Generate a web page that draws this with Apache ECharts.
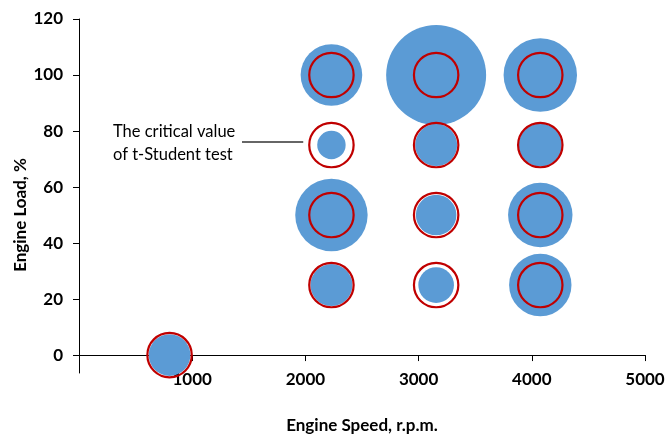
<!DOCTYPE html>
<html>
<head>
<meta charset="utf-8">
<script src="https://cdn.jsdelivr.net/npm/echarts@6/dist/echarts.min.js"></script>
<style>
  html, body { margin: 0; padding: 0; background: #fff; }
  #chart { width: 666px; height: 438px; }
</style>
</head>
<body>
<div id="chart"></div>
<script>
// Measurement points: engine speed (r.p.m.) and engine load (%)
const speeds = [800, 2230, 2230, 2230, 2230, 3155, 3155, 3155, 3155, 4075, 4075, 4075, 4075];
const loads  = [0,   25,   50,   75,   100,  25,   50,   75,   100,  25,   50,   75,   100];
// t-Student statistic at each point (bubble area)
const tValues = [1.76, 1.79, 5.32, 0.82, 3.85, 1.29, 1.67, 1.79, 10.14, 3.95, 4.21, 1.88, 5.47];
// Critical value of the t-Student test (red ring)
const tCritical = 2.0;

const xTicks = [1000, 2000, 3000, 4000, 5000];
const yTicks = [0, 20, 40, 60, 80, 100, 120];

const xName = 'Engine Speed, r.p.m.';
const yName = 'Engine Load, %';
const noteText = 'The critical value\nof t-Student test';
const notePoint = [2230, 75];

// bubble diameter grows with the square root of the value (area ∝ value)
const bubbleScale = 31.4;
const diameter = v => bubbleScale * Math.sqrt(v);

const statData = speeds.map((s, i) => [s, loads[i], tValues[i]]);
const critData = speeds.map((s, i) => [s, loads[i], tCritical]);

const FONT = 'Lato';
const tickFont = { fontFamily: FONT, fontWeight: 'bold', fontSize: 17, color: '#000' };
const chart = echarts.init(document.getElementById('chart'), null, { renderer: 'canvas' });

chart.setOption({
  animation: false,
  backgroundColor: '#ffffff',
  grid: { left: 79, right: 21, top: 19, bottom: 65, containLabel: false, outerBoundsMode: 'none' },
  xAxis: {
    type: 'value',
    min: 0,
    max: 5000,
    interval: 1000,
    name: xName,
    nameLocation: 'middle',
    nameGap: 44,
    nameTextStyle: { fontFamily: FONT, fontWeight: 'bold', fontSize: 17, color: '#000' },
    axisLine: { show: true, onZero: true, lineStyle: { color: '#000', width: 1 } },
    axisTick: { show: true, length: 6, customValues: xTicks, lineStyle: { color: '#000' } },
    axisLabel: Object.assign({ customValues: xTicks, margin: -2, formatter: v => String(v) }, tickFont),
    splitLine: { show: false }
  },
  yAxis: {
    type: 'value',
    min: -6.4,
    max: 120,
    axisLine: { show: true, onZero: false, lineStyle: { color: '#000', width: 1 } },
    axisTick: { show: true, length: 6, customValues: yTicks, lineStyle: { color: '#000' } },
    axisLabel: Object.assign({ customValues: yTicks, margin: 16, formatter: v => String(v) }, tickFont),
    splitLine: { show: false }
  },
  series: [
    {
      name: 't-Student statistic',
      type: 'scatter',
      data: statData,
      symbol: 'circle',
      symbolSize: d => diameter(d[2]),
      itemStyle: { color: '#5B9BD5', opacity: 1 },
      emphasis: { disabled: true },
      z: 2
    },
    {
      name: 'Critical value',
      type: 'scatter',
      data: critData,
      symbol: 'circle',
      symbolSize: d => diameter(d[2]),
      itemStyle: { color: 'rgba(0,0,0,0)', borderColor: '#C00000', borderWidth: 2.2, opacity: 1 },
      emphasis: { disabled: true },
      z: 3
    }
  ]
});

// annotation pointing at one of the critical-value rings
const p = chart.convertToPixel({ seriesIndex: 1 }, notePoint);
const ringR = diameter(tCritical) / 2 + 1;

chart.setOption({
  graphic: [
    {
      type: 'text',
      x: 21,
      y: 215,
      rotation: Math.PI / 2,
      style: {
        text: yName,
        fontFamily: FONT, fontWeight: 'bold', fontSize: 17, fill: '#000',
        align: 'center', verticalAlign: 'middle'
      }
    },
    {
      type: 'text',
      x: 113,
      y: 120,
      style: {
        text: noteText,
        fontFamily: FONT, fontSize: 16.5, lineHeight: 23.3, fill: '#000',
        align: 'left', verticalAlign: 'top'
      }
    },
    {
      type: 'line',
      shape: { x1: 242, y1: p[1] - 3, x2: p[0] - ringR - 5, y2: p[1] - 3 },
      style: { stroke: '#333', lineWidth: 1.5 }
    }
  ]
});
</script>
</body>
</html>
